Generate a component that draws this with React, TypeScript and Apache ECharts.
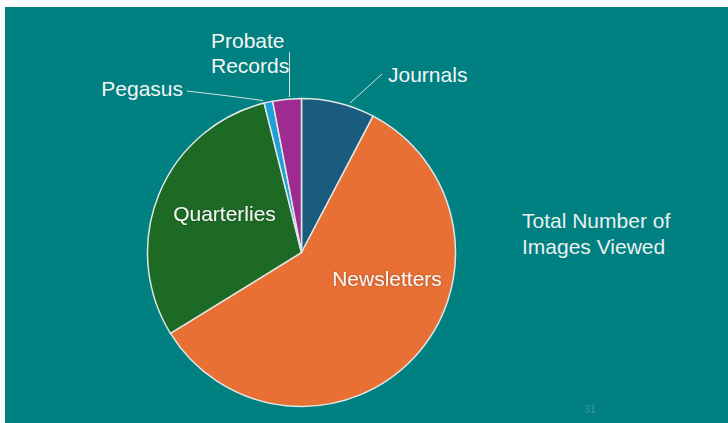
import React, { useEffect, useRef } from 'react';
import * as echarts from 'echarts';

const categories = ['Journals', 'Newsletters', 'Quarterlies', 'Pegasus', 'Probate Records'];
const values = [7.7, 58.5, 29.9, 0.9, 3.0];
const sliceColors = ['#1b5c7e', '#e87035', '#1d6a25', '#1d9fd8', '#a02b90'];
const titleLines = ['Total Number of', 'Images Viewed'];
const pageNumber = '31';

// label placement (style/layout only)
const insideLabels = ['Newsletters', 'Quarterlies'];
const labelPlacement: any[] = [
  { x: 388, y: 74.5, align: 'left', line: [[350, 103], [366, 88.5], [382, 74]] },
  { x: 387, y: 278, align: 'center' },
  { x: 224.5, y: 213.5, align: 'center' },
  { x: 183, y: 88, align: 'right', line: [[263, 100.5], [225, 95.5], [187, 91]] },
  { x: 211, y: 53, align: 'left', line: [[289.5, 97], [289.5, 75], [289.5, 52]] },
];

const FONT = '"Liberation Sans", Arial, Helvetica, sans-serif';

export default function App() {
  const ref = useRef<HTMLDivElement>(null);
  useEffect(() => {
    if (!ref.current) return;
    const chart = echarts.init(ref.current, undefined, { renderer: 'svg' });
    const option: any = {
      animation: false,
      backgroundColor: '#ffffff',
      graphic: [
        { type: 'rect', z: 0, shape: { x: 5, y: 7, width: 723, height: 416 }, style: { fill: '#008080' } },
        {
          type: 'text', z: 10, x: 522, y: 233,
          style: {
            text: titleLines.join('\n'), fill: '#e8f0f0', font: `21px ${FONT}`,
            lineHeight: 26, textAlign: 'left', textVerticalAlign: 'middle',
          },
        },
        {
          type: 'text', z: 10, x: 590, y: 409,
          style: { text: pageNumber, fill: '#3f9a9a', font: `10px ${FONT}`, textAlign: 'center', textVerticalAlign: 'middle' },
        },
      ],
      series: [
        {
          type: 'pie',
          center: [301.5, 252.5],
          radius: 154,
          startAngle: 90,
          clockwise: true,
          avoidLabelOverlap: false,
          emphasis: { disabled: true },
          itemStyle: { borderColor: '#dfe6e6', borderWidth: 1.5 },
          label: {
            show: true,
            color: '#f4f6f4',
            fontSize: 21,
            fontFamily: FONT,
            lineHeight: 25.4,
          },
          labelLine: { show: true, lineStyle: { color: '#d5e2e2', width: 1 } },
          labelLayout: (p: any) => {
            const pl = labelPlacement[p.dataIndex];
            const r: any = { x: pl.x, y: pl.y, align: pl.align, verticalAlign: 'middle' };
            if (pl.line) r.labelLinePoints = pl.line;
            return r;
          },
          data: categories.map((name, i) => {
            const inside = insideLabels.includes(name);
            return {
              name,
              value: values[i],
              itemStyle: { color: sliceColors[i] },
              label: {
                position: inside ? 'inside' : 'outside',
                formatter: name === 'Probate Records' ? 'Probate\nRecords' : '{b}',
                textShadowColor: inside ? 'rgba(0,0,0,0.35)' : 'transparent',
                textShadowBlur: inside ? 2 : 0,
              },
              labelLine: { show: !inside },
            };
          }),
        },
      ],
    };
    chart.setOption(option);
    return () => chart.dispose();
  }, []);
  return (
    <div style={{ position: 'fixed', left: 0, top: 0, width: 728, height: 423 }}>
      <div ref={ref} style={{ width: 728, height: 423 }} />
    </div>
  );
}
